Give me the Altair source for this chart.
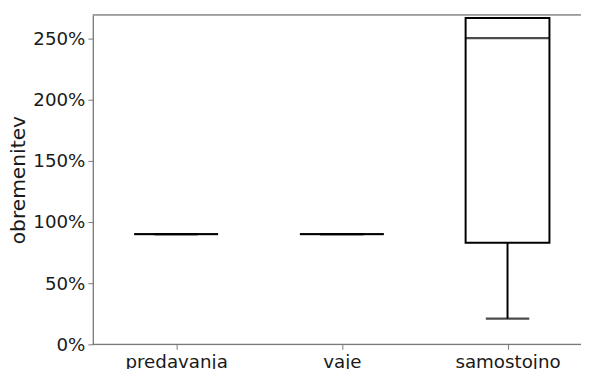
import altair as alt
import pandas as pd

categories = ["predavanja", "vaje", "samostojno"]
whisker_low = [90, 90, 21]
q1 = [90, 90, 83]
median = [90, 90, 250]
q3 = [90, 90, 266.5]
whisker_high = [90, 90, 266.5]

y_ticks = [0, 50, 100, 150, 200, 250]
y_max = 269

df = pd.DataFrame({
    "cat": categories,
    "lo": whisker_low,
    "q1": q1,
    "med": median,
    "q3": q3,
    "hi": whisker_high,
})

FONT = "DejaVu Sans"
GRAY = "#7a7a7a"
TXT = "#1a1a1a"
W, H = 495, 334

x = alt.X(
    "cat:N",
    sort=categories,
    scale=alt.Scale(type="point", range=[84.5, 420.5], padding=0),
    axis=alt.Axis(
        title=None, labelAngle=0, labelFont=FONT, labelFontSize=18.5,
        labelColor=TXT, tickColor=GRAY, domain=False,
        tickSize=5, labelPadding=3, grid=False,
    ),
)
yscale = alt.Scale(domain=[0, y_max], nice=False, zero=True)
yaxis = alt.Axis(
    title="obremenitev", values=y_ticks, labelExpr="datum.value + '%'",
    labelFont=FONT, labelFontSize=18.5, labelColor=TXT,
    titleFont=FONT, titleFontSize=20.5, titleFontWeight="normal",
    titleColor=TXT, titlePadding=4, tickColor=GRAY,
    domainColor=GRAY, tickSize=5, labelPadding=3, domainWidth=1.3, grid=False,
)

base = alt.Chart(df)

whisk_lo = base.mark_rule(color="black", strokeWidth=2).encode(
    x=x, y=alt.Y("lo:Q", scale=yscale, axis=yaxis), y2="q1:Q")
whisk_hi = base.mark_rule(color="black", strokeWidth=2).encode(
    x=x, y=alt.Y("q3:Q", scale=yscale, axis=yaxis), y2="hi:Q")
box = base.mark_bar(size=85, fill="white", stroke="black", strokeWidth=2).encode(
    x=x, y=alt.Y("q1:Q", scale=yscale, axis=yaxis), y2="q3:Q")
med = base.mark_tick(orient="horizontal", size=85, thickness=2.2, color="black").encode(
    x=x, y=alt.Y("med:Q", scale=yscale, axis=yaxis))
cap_lo = base.mark_tick(orient="horizontal", size=44, thickness=2.2, color="black").encode(
    x=x, y=alt.Y("lo:Q", scale=yscale, axis=yaxis))
cap_hi = base.mark_tick(orient="horizontal", size=44, thickness=2.2, color="black").encode(
    x=x, y=alt.Y("hi:Q", scale=yscale, axis=yaxis))
frame = alt.Chart(pd.DataFrame({"a": [0]}))
top = frame.mark_rule(color=GRAY, strokeWidth=1.3).encode(
    x=alt.value(0), x2=alt.value(W), y=alt.value(0))
bottom = frame.mark_rule(color=GRAY, strokeWidth=1.3).encode(
    x=alt.value(0), x2=alt.value(W), y=alt.value(H))

chart = alt.layer(whisk_lo, whisk_hi, box, med, cap_lo, cap_hi, top, bottom).properties(
    width=W, height=H,
    autosize=alt.AutoSizeParams(type="none"),
    padding={"left": 86, "top": 4.5, "right": 0, "bottom": 24},
).configure_view(stroke=None).configure(background="white")

chart.save("out.html", embed_options={"renderer": "svg", "actions": False})
